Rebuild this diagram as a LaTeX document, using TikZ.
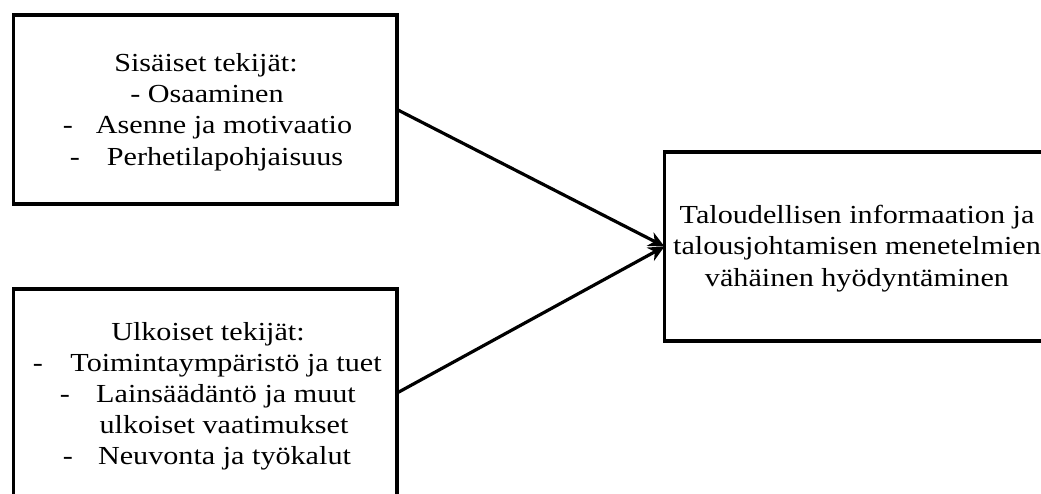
\documentclass[tikz,border=0pt]{standalone}
\usepackage{fontspec}
\setmainfont{Liberation Serif}[FakeStretch=1.16]
\usetikzlibrary{arrows.meta}
\begin{document}
\begin{tikzpicture}[x=1pt,y=-1pt,
  box/.style={draw=black, line width=3.2pt, rectangle, inner sep=0pt, outer sep=0pt, fill=none},
  txt/.style={anchor=base, inner sep=0pt, outer sep=0pt, font=\fontsize{26}{31}\selectfont},
  link/.style={line width=3.2pt, -{Stealth[length=16pt,width=15pt,inset=5pt]}}
]
\useasboundingbox (0,0) rectangle (1041,493);
\clip (0,0) rectangle (1041,493);
\fill[white] (0,0) rectangle (1041,493);

% factor boxes on the left, outcome box on the right
\node[box, minimum width=383.5pt, minimum height=189pt] (inner) at (205.25,109.5) {};
\node[box, minimum width=383.5pt, minimum height=208pt] (outer) at (205.25,393) {};
\node[box, minimum width=395pt, minimum height=189pt] (result) at (862,246.5) {};

% internal factors
\node[txt] (inhead) at (206,71) {Sisäiset tekijät:};
\node[txt] (in1) at (207,102) {- Osaaminen};
\node[txt] (in2d) at (68,133) {-};
\node[txt] (in2) at (224,133) {Asenne ja motivaatio};
\node[txt] (in3d) at (75,165) {-};
\node[txt] (in3) at (225,165) {Perhetilapohjaisuus};

% external factors
\node[txt] (outhead) at (208,340) {Ulkoiset tekijät:};
\node[txt] (out1d) at (38,371) {-};
\node[txt] (out1) at (226,371) {Toimintaympäristö ja tuet};
\node[txt] (out2d) at (65,402) {-};
\node[txt] (out2) at (226,402) {Lainsäädäntö ja muut};
\node[txt] (out2b) at (224,433) {ulkoiset vaatimukset};
\node[txt] (out3d) at (68,464) {-};
\node[txt] (out3) at (224.5,464) {Neuvonta ja työkalut};

% outcome
\node[txt] (res1) at (857,223) {Taloudellisen informaation ja};
\node[txt] (res2) at (857,254) {talousjohtamisen menetelmien};
\node[txt] (res3) at (857,286) {vähäinen hyödyntäminen};

% influences
\draw[link] (inner.east) -- (result.west);
\draw[link] (outer.east) -- (result.west);
\end{tikzpicture}
\end{document}
